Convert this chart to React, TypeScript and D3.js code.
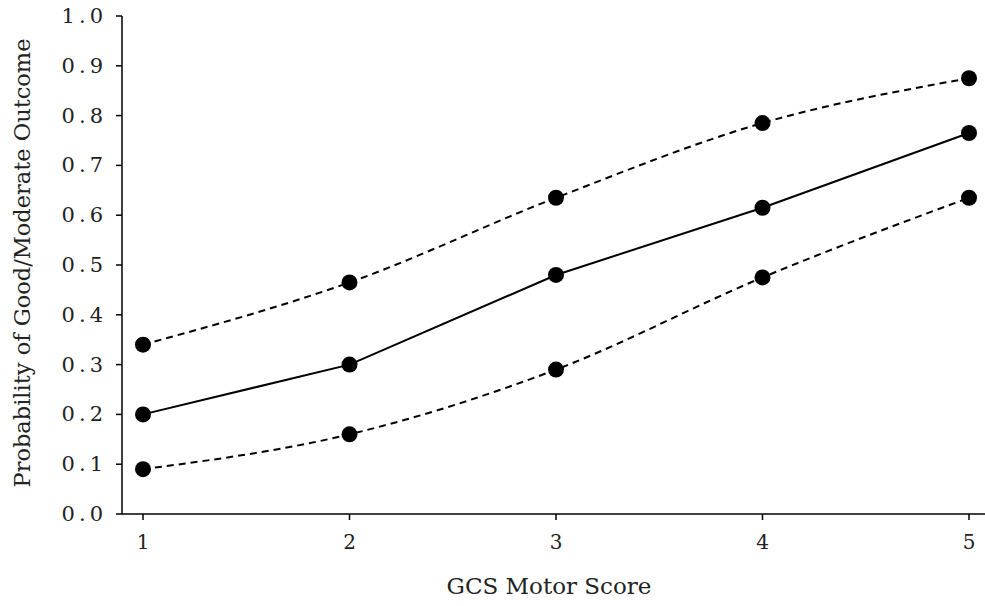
import React from "react";
import * as d3 from "d3";

const scores = [1, 2, 3, 4, 5];
const upper = [0.34, 0.465, 0.635, 0.785, 0.875];
const middle = [0.2, 0.3, 0.48, 0.615, 0.765];
const lower = [0.09, 0.16, 0.29, 0.475, 0.635];
const yTicks = [0, 0.1, 0.2, 0.3, 0.4, 0.5, 0.6, 0.7, 0.8, 0.9, 1.0];
const xTicks = [1, 2, 3, 4, 5];
const xTitle = "GCS Motor Score";
const yTitle = "Probability of Good/Moderate Outcome";

const W = 985;
const H = 606;
const axisX = 122;
const axisY = 514;
const font = "'DejaVu Serif', serif";

export default function App() {
  const x = d3.scaleLinear().domain([1, 5]).range([143, 969]);
  const y = d3.scaleLinear().domain([0, 1]).range([axisY, 16]);
  const lineSmooth = d3
    .line<[number, number]>()
    .x((d) => x(d[0]))
    .y((d) => y(d[1]))
    .curve(d3.curveMonotoneX);
  const lineStraight = d3
    .line<[number, number]>()
    .x((d) => x(d[0]))
    .y((d) => y(d[1]));
  const series = [
    { vals: upper, dashed: true },
    { vals: middle, dashed: false },
    { vals: lower, dashed: true },
  ];
  return (
    <svg
      width={W}
      height={H}
      style={{ position: "absolute", left: 0, top: 0, background: "#fff" }}
    >
      <line x1={axisX} x2={axisX} y1={y(1)} y2={axisY} stroke="#000" strokeWidth={1.5} />
      <line x1={axisX} x2={W} y1={axisY} y2={axisY} stroke="#000" strokeWidth={1.5} />
      {yTicks.map((t) => (
        <g key={t}>
          <line x1={axisX - 6} x2={axisX} y1={y(t)} y2={y(t)} stroke="#000" strokeWidth={1.5} />
          <text
            x={107}
            y={y(t)}
            textAnchor="end"
            dominantBaseline="central"
            fontFamily={font}
            fontSize={21}
            letterSpacing={4}
            fill="#222"
          >
            {t.toFixed(1)}
          </text>
        </g>
      ))}
      {xTicks.map((t) => (
        <g key={t}>
          <line x1={x(t)} x2={x(t)} y1={axisY} y2={axisY + 6} stroke="#000" strokeWidth={1.5} />
          <text
            x={x(t)}
            y={axisY + 28}
            textAnchor="middle"
            dominantBaseline="central"
            fontFamily={font}
            fontSize={20}
            fill="#222"
          >
            {t}
          </text>
        </g>
      ))}
      <text
        x={549}
        y={586}
        textAnchor="middle"
        dominantBaseline="central"
        fontFamily={font}
        fontSize={23}
        fill="#222"
      >
        {xTitle}
      </text>
      <text
        transform={`translate(22, ${y(0.5) - 2}) rotate(-90)`}
        textAnchor="middle"
        dominantBaseline="central"
        fontFamily={font}
        fontSize={22.5}
        fill="#222"
      >
        {yTitle}
      </text>
      {series.map((s, i) => {
        const pts = scores.map((sc, j) => [sc, s.vals[j]] as [number, number]);
        return (
          <g key={i}>
            <path
              d={(s.dashed ? lineSmooth(pts) : lineStraight(pts)) || ""}
              fill="none"
              stroke="#000"
              strokeWidth={2}
              strokeDasharray={s.dashed ? "7,5" : undefined}
            />
            {pts.map((p, j) => (
              <circle key={j} cx={x(p[0])} cy={y(p[1])} r={8} fill="#000" />
            ))}
          </g>
        );
      })}
    </svg>
  );
}
